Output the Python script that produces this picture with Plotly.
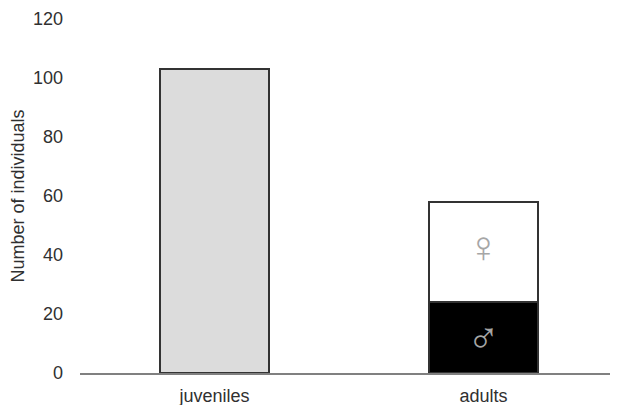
import plotly.graph_objects as go

categories = ["juveniles", "adults"]
juveniles = [103, None]
males = [None, 24]
females = [None, 34]
y_ticks = [0, 20, 40, 60, 80, 100, 120]

fig = go.Figure()
line = dict(color="#333333", width=1.5)
fig.add_bar(x=categories, y=juveniles, marker=dict(color="#dcdcdc", line=line), width=0.405)
fig.add_bar(x=categories, y=males, marker=dict(color="#000000", line=line), width=0.405)
fig.add_bar(x=categories, y=females, marker=dict(color="#ffffff", line=line), width=0.405)

fig.add_annotation(x="adults", y=males[1] / 2, text="♂", showarrow=False,
                   font=dict(size=44, color="#a6a6a6", family="Liberation Sans"))
fig.add_annotation(x="adults", y=males[1] + females[1] / 2, text="♀", showarrow=False, yshift=6,
                   font=dict(size=44, color="#a6a6a6", family="Liberation Sans"))

fig.update_layout(
    barmode="stack",
    showlegend=False,
    width=610, height=397,
    margin=dict(l=72, r=0, t=11, b=32),
    plot_bgcolor="white", paper_bgcolor="white",
    font=dict(family="Liberation Sans, Arial", size=18, color="#303030"),
)
fig.update_xaxes(showline=True, linecolor="#808080", linewidth=1.5, showgrid=False,
                 ticks="", ticklabelstandoff=6, tickfont=dict(size=18))
fig.update_yaxes(range=[0, 120], tickvals=y_ticks, showgrid=False, zeroline=False,
                 showline=False, ticks="", ticklabelstandoff=16, tickfont=dict(size=18),
                 title=dict(text="Number of individuals", font=dict(size=18), standoff=12))
fig.write_html("out.html")
